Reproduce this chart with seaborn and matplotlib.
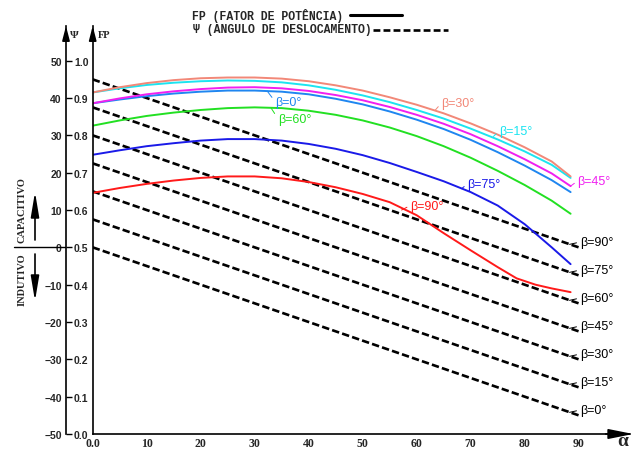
import matplotlib
matplotlib.use("Agg")
import matplotlib.pyplot as plt
from matplotlib.lines import Line2D
import pandas as pd
import seaborn as sns

# --- values ---
alpha = [0, 5, 10, 15, 20, 25, 30, 35, 40, 45, 50, 55, 60, 65, 70, 75, 80, 85, 88.5]
fp_b0 = [0.886, 0.896, 0.905, 0.912, 0.917, 0.920, 0.920, 0.917, 0.910, 0.898, 0.883,
         0.864, 0.842, 0.817, 0.788, 0.755, 0.719, 0.680, 0.648]
fp_b15 = [0.915, 0.926, 0.935, 0.941, 0.945, 0.947, 0.946, 0.942, 0.934, 0.922, 0.907,
          0.889, 0.868, 0.845, 0.818, 0.789, 0.757, 0.721, 0.686]
fp_b30 = [0.915, 0.929, 0.940, 0.948, 0.953, 0.955, 0.955, 0.952, 0.945, 0.934, 0.920,
          0.902, 0.882, 0.859, 0.832, 0.802, 0.768, 0.730, 0.690]
fp_b45 = [0.886, 0.899, 0.910, 0.918, 0.924, 0.928, 0.929, 0.926, 0.919, 0.908, 0.894,
          0.876, 0.855, 0.831, 0.803, 0.771, 0.736, 0.698, 0.664]
fp_b60 = [0.826, 0.840, 0.852, 0.861, 0.868, 0.873, 0.875, 0.873, 0.866, 0.855, 0.840,
          0.821, 0.798, 0.771, 0.740, 0.705, 0.667, 0.625, 0.590]
fp_b75 = [0.748, 0.760, 0.771, 0.779, 0.786, 0.790, 0.790, 0.786, 0.777, 0.764, 0.747,
          0.726, 0.702, 0.677, 0.648, 0.612, 0.562, 0.500, 0.455]

alpha_b90 = [0, 5, 10, 15, 20, 25, 30, 35, 40, 45, 50, 55, 60, 65, 70, 75, 78.5, 82, 85, 88.5]
fp_b90 = [0.646, 0.659, 0.670, 0.679, 0.686, 0.690, 0.690, 0.685, 0.675, 0.661, 0.643,
          0.621, 0.586, 0.538, 0.492, 0.447, 0.417, 0.400, 0.390, 0.380]

# displacement angle (straight dashed lines), value at alpha = 0 and alpha = 90
psi_alpha = [0, 90]
psi_beta = ["β=90°", "β=75°", "β=60°", "β=45°", "β=30°", "β=15°", "β=0°"]
psi_start = [45, 37.5, 30, 22.5, 15, 7.5, 0]
psi_end = [0, -7.5, -15, -22.5, -30, -37.5, -45]

fp_ticks = [0.0, 0.1, 0.2, 0.3, 0.4, 0.5, 0.6, 0.7, 0.8, 0.9, 1.0]
psi_ticks = [-50, -40, -30, -20, -10, 0, 10, 20, 30, 40, 50]
alpha_ticks = [0, 10, 20, 30, 40, 50, 60, 70, 80, 90]
alpha_labels = ["0.0", "10", "20", "30", "40", "50", "60", "70", "80", "90"]

palette = {
    "β=0°": "#1f86f0",
    "β=15°": "#1ce4f0",
    "β=30°": "#f28878",
    "β=45°": "#f020f0",
    "β=60°": "#22e022",
    "β=75°": "#1a1ae8",
    "β=90°": "#ff1a1a",
}

rows = []
for beta, vals in [("β=0°", fp_b0), ("β=60°", fp_b60), ("β=45°", fp_b45),
                   ("β=15°", fp_b15), ("β=30°", fp_b30), ("β=75°", fp_b75)]:
    rows += [(beta, a, v) for a, v in zip(alpha, vals)]
rows += [("β=90°", a, v) for a, v in zip(alpha_b90, fp_b90)]
curve_df = pd.DataFrame(rows, columns=["beta", "alpha", "fp"])

drows = []
for beta, p0, p1 in zip(psi_beta, psi_start, psi_end):
    for a, p in zip(psi_alpha, [p0, p1]):
        drows.append((beta, a, p / 100 + 0.5))   # psi axis -> FP axis scale
dash_df = pd.DataFrame(drows, columns=["beta", "alpha", "fp"])

sns.set_style("white")
plt.rcParams["font.family"] = ["Liberation Sans", "DejaVu Sans"]

W, H = 643, 452
PX_X, PX_Y = 5.4, 373.3            # pixels per alpha degree / per FP unit
x0, x1, yb, yt = 92.7, 630, 435, 27

fig = plt.figure(figsize=(W / 100, H / 100), dpi=100)
ax = fig.add_axes([x0 / W, (H - yb) / H, (x1 - x0) / W, (yb - yt) / H])
xmax, ymax = (x1 - x0) / PX_X, (yb - yt) / PX_Y
ax.set_xlim(0, xmax)
ax.set_ylim(0, ymax)

sns.lineplot(data=dash_df, x="alpha", y="fp", units="beta", estimator=None,
             color="black", lw=1.9, linestyle=(0, (2.8, 1.2)), ax=ax)
sns.lineplot(data=curve_df, x="alpha", y="fp", hue="beta", palette=palette,
             units="beta", estimator=None, sort=False, lw=1.4, legend=False, ax=ax)
ax.set_xlabel("")
ax.set_ylabel("")

# axes, ticks
for s in ["top", "right"]:
    ax.spines[s].set_visible(False)
for s in ["left", "bottom"]:
    ax.spines[s].set_linewidth(1.2)
    ax.spines[s].set_color("black")

ax.set_xticks(alpha_ticks, labels=alpha_labels, family="Liberation Serif", weight="bold",
              fontsize=8.5)
ax.set_xticks([5, 15, 25, 35, 45, 55, 65, 75, 85], minor=True)
ax.set_yticks(fp_ticks, labels=[f"{v:.1f}" for v in fp_ticks], weight="bold", fontsize=7.5)
ax.set_yticks([0.05, 0.15, 0.25, 0.35, 0.45, 0.55, 0.65, 0.75, 0.85, 0.95], minor=True)
ax.tick_params(which="major", direction="in", length=5, width=1, color="black")
ax.tick_params(which="minor", direction="in", length=3, width=1, color="black")
ax.tick_params(axis="x", pad=2.5)
ax.tick_params(axis="y", pad=3)

psi_loc = -(x0 - 66) / (x1 - x0)
sec = ax.secondary_yaxis(psi_loc, functions=(lambda f: (f - 0.5) * 100, lambda p: p / 100 + 0.5))
sec.set_yticks(psi_ticks, labels=[str(v).replace("-", "\u2212") for v in psi_ticks], weight="bold")
sec.tick_params(direction="in", length=4.5, width=1, labelsize=7.5, pad=3, color="black")
sec.spines["left"].set_linewidth(1.2)
sec.spines["left"].set_color("black")

# arrow heads on the axes
head = dict(arrowstyle="-|>,head_length=0.85,head_width=0.22", color="black", lw=1.2,
            shrinkA=0, shrinkB=0)
for xa in [0, psi_loc * xmax]:
    ax.annotate("", xy=(xa, ymax), xytext=(xa, ymax - 0.03), arrowprops=head,
                annotation_clip=False)
ax.annotate("", xy=(100.1, 0), xytext=(95, 0), annotation_clip=False,
            arrowprops=dict(arrowstyle="-|>,head_length=1.5,head_width=0.3",
                            color="black", lw=1.2, shrinkA=0, shrinkB=0))
fig.text(70 / W, (H - 35) / H, "Ψ", family="Liberation Serif", weight="bold",
         fontsize=8, va="center")
fig.text(98 / W, (H - 36) / H, "FP", family="Liberation Serif", weight="bold",
         fontsize=7.5, va="center")
fig.text(623 / W, (H - 442) / H, "α", family="Liberation Serif", weight="bold",
         fontsize=14, va="center", ha="center")

# curve labels (text position, leader point on the curve)
lead = dict(arrowstyle="-", lw=0.7, shrinkA=0, shrinkB=0)
curve_labels = {
    "β=0°": ((33.8, 0.890), (32.3, 0.919)),
    "β=60°": ((34.3, 0.845), (33.0, 0.874)),
    "β=30°": ((64.6, 0.887), (63.4, 0.867)),
    "β=15°": ((75.3, 0.812), (74.2, 0.797)),
    "β=45°": ((89.8, 0.678), (88.5, 0.664)),
    "β=75°": ((69.4, 0.670), (68.3, 0.657)),
    "β=90°": ((58.8, 0.612), (57.2, 0.600)),
}
for beta, (txt, pt) in curve_labels.items():
    ax.annotate(beta, xy=pt, xytext=txt, color=palette[beta], fontsize=9,
                va="center", ha="left", annotation_clip=False,
                arrowprops=dict(lead, color=palette[beta], relpos=(0, 0.5)))

for beta, p1 in zip(psi_beta, psi_end):
    yend = p1 / 100 + 0.5
    ax.annotate(beta, xy=(88.3, yend + 0.008), xytext=(90.2, yend + 0.014),
                color="black", fontsize=9, va="center", ha="left",
                annotation_clip=False,
                arrowprops=dict(lead, color="black", relpos=(0, 0.5)))

# legend in the header
mono = ["Liberation Mono", "DejaVu Sans Mono"]
fig.text(191.7 / W, (H - 16) / H, "FP (FATOR DE POTÊNCIA)", family=mono,
         weight="bold", fontsize=8.3, va="center")
fig.text(193 / W, (H - 30) / H, "Ψ (ANGULO DE DESLOCAMENTO)", family=mono,
         weight="bold", fontsize=8.3, va="center")
fig.add_artist(Line2D([350 / W, 402 / W], [(H - 16) / H] * 2, color="black", lw=2.2))
fig.add_artist(Line2D([373 / W, 448 / W], [(H - 31) / H] * 2, color="black", lw=1.9,
                      linestyle=(0, (2.6, 1.2))))

# capacitive / inductive marker on the left
fig.add_artist(Line2D([14 / W, 65 / W], [(H - 248.3) / H] * 2, color="black", lw=1))
arr = dict(arrowstyle="-|>,head_length=1.5,head_width=0.25", color="black", lw=1.2,
           shrinkA=0, shrinkB=0)
ax.annotate("", xy=(35, H - 193), xytext=(35, H - 241), xycoords="figure pixels",
            textcoords="figure pixels", arrowprops=arr)
ax.annotate("", xy=(35, H - 302), xytext=(35, H - 255), xycoords="figure pixels",
            textcoords="figure pixels", arrowprops=arr)
fig.text(22 / W, (H - 210) / H, "CAPACITIVO", rotation=90, family="Liberation Serif",
         weight="bold", fontsize=7.5, ha="center", va="center")
fig.text(22 / W, (H - 280) / H, "INDUTIVO", rotation=90, family="Liberation Serif",
         weight="bold", fontsize=7.5, ha="center", va="center")

fig.savefig("out.png", dpi=100)
